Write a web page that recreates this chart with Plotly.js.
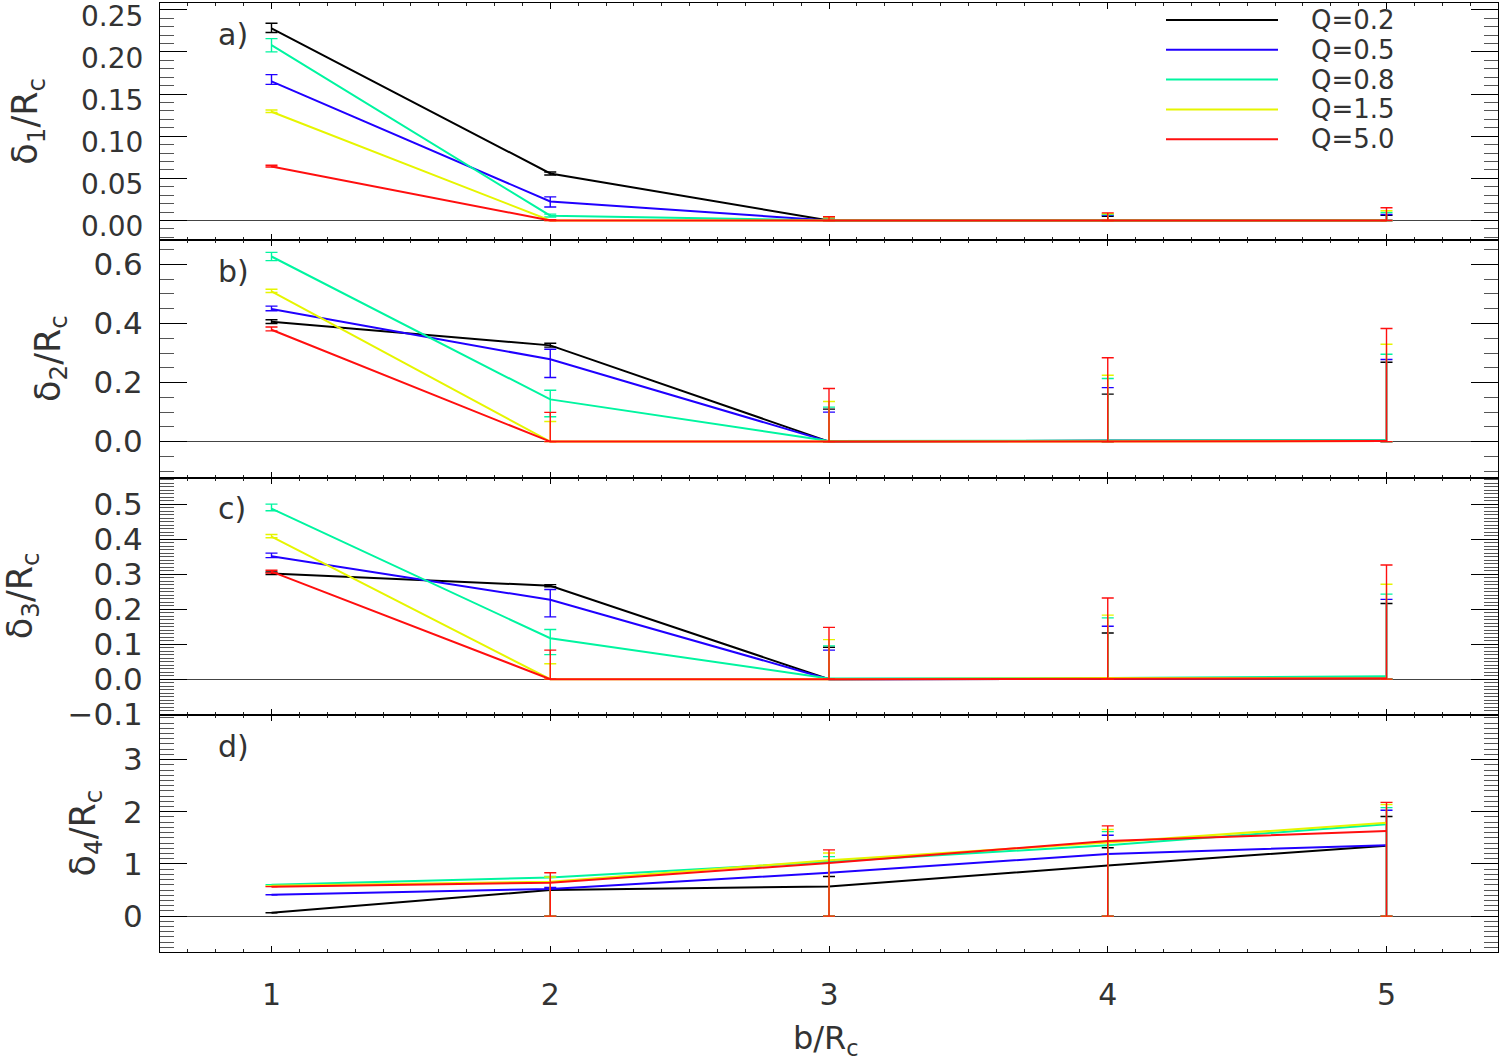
<!DOCTYPE html>
<html><head><meta charset="utf-8">
<script src="https://cdn.plot.ly/plotly-3.0.1.min.js"></script>
<style>body{margin:0;background:#fff}</style>
</head><body><div id="chart" style="width:1501px;height:1060px"></div>
<script>
// impact parameter b/Rc
const bR = [1, 2, 3, 4, 5];
const qLabels = ['Q=0.2', 'Q=0.5', 'Q=0.8', 'Q=1.5', 'Q=5.0'];
const qColors = ['#000000', '#2000ff', '#00f5a0', '#e6f500', '#ff0f0f'];

// panel a: delta_1 / Rc  (rows: Q=0.2, 0.5, 0.8, 1.5, 5.0)
const d1Val = [
  [0.228, 0.0557, 0, 0, 0],
  [0.165, 0.0225, 0, 0, 0],
  [0.208, 0.0056, 0, 0, 0],
  [0.129, 0, 0, 0, 0],
  [0.064, 0, 0, 0, 0]
];
const d1Hi = [
  [0.234, 0.0575, 0.002, 0.005, 0.006],
  [0.173, 0.028, 0.002, 0.006, 0.007],
  [0.2157, 0.0075, 0.003, 0.007, 0.0095],
  [0.131, 0.001, 0.003, 0.008, 0.0115],
  [0.0655, 0.001, 0.0044, 0.009, 0.015]
];
const d1Lo = [
  [0.223, 0.054, 0, 0, 0],
  [0.1615, 0.016, 0, 0, 0],
  [0.200, 0.004, 0, 0, 0],
  [0.128, 0, 0, 0, 0],
  [0.0635, 0, 0, 0, 0]
];

// panel b: delta_2 / Rc
const d2Val = [
  [0.406, 0.326, 0, 0.003, 0.003],
  [0.449, 0.279, 0, 0.003, 0.003],
  [0.627, 0.143, 0.002, 0.003, 0.005],
  [0.509, 0, 0, 0.002, 0.002],
  [0.379, 0, 0, 0.002, 0.002]
];
const d2Hi = [
  [0.413, 0.333, 0.110, 0.161, 0.269],
  [0.459, 0.313, 0.100, 0.183, 0.278],
  [0.641, 0.174, 0.117, 0.214, 0.296],
  [0.516, 0.068, 0.136, 0.225, 0.330],
  [0.388, 0.099, 0.180, 0.284, 0.383]
];
const d2Lo = [
  [0.400, 0.320, 0, 0, 0],
  [0.443, 0.217, 0, 0, 0],
  [0.613, 0.084, 0, 0, 0],
  [0.505, 0, 0, 0, 0],
  [0.375, 0, 0, 0, 0]
];

// panel c: delta_3 / Rc
const d3Val = [
  [0.302, 0.267, 0, 0.002, 0.002],
  [0.351, 0.227, 0, 0.002, 0.002],
  [0.487, 0.117, 0.002, 0.003, 0.008],
  [0.407, 0, 0, 0.003, 0.002],
  [0.307, 0, 0, 0.002, 0.002]
];
const d3Hi = [
  [0.306, 0.270, 0.091, 0.132, 0.216],
  [0.360, 0.256, 0.083, 0.151, 0.228],
  [0.500, 0.142, 0.095, 0.175, 0.243],
  [0.413, 0.044, 0.113, 0.183, 0.271],
  [0.311, 0.083, 0.148, 0.232, 0.326]
];
const d3Lo = [
  [0.299, 0.264, 0, 0, 0],
  [0.347, 0.178, 0, 0, 0],
  [0.481, 0.070, 0, 0, 0],
  [0.404, 0, 0, 0, 0],
  [0.303, 0, 0, 0, 0]
];

// panel d: delta_4 / Rc
const d4Val = [
  [0.064, 0.50, 0.57, 0.97, 1.35],
  [0.41, 0.52, 0.83, 1.19, 1.36],
  [0.60, 0.74, 1.04, 1.36, 1.76],
  [0.58, 0.66, 1.07, 1.41, 1.79],
  [0.565, 0.64, 1.02, 1.44, 1.63]
];
const d4Hi = [
  [0.064, 0.52, 0.76, 1.31, 1.91],
  [0.41, 0.55, 1.06, 1.55, 2.03],
  [0.60, 0.76, 1.14, 1.62, 2.08],
  [0.58, 0.75, 1.21, 1.66, 2.14],
  [0.565, 0.83, 1.27, 1.73, 2.18]
];
const d4Lo = [
  [0.064, 0, 0, 0, 0],
  [0.41, 0, 0, 0, 0],
  [0.60, 0, 0, 0, 0],
  [0.58, 0, 0, 0, 0],
  [0.565, 0, 0, 0, 0]
];

const panelLabels = ['a)', 'b)', 'c)', 'd)'];
const panelTitles = ['δ<sub>1</sub>/R<sub>c</sub>', 'δ<sub>2</sub>/R<sub>c</sub>', 'δ<sub>3</sub>/R<sub>c</sub>', 'δ<sub>4</sub>/R<sub>c</sub>'];

const panels = [
  {val: d1Val, hi: d1Hi, lo: d1Lo, range: [-0.0235, 0.258], minor: 0.01, fmt: '.2f', tickvals: [0, 0.05, 0.1, 0.15, 0.2, 0.25], fs: 28, titleX: 28, shift: 6},
  {val: d2Val, hi: d2Hi, lo: d2Lo, range: [-0.1215, 0.682], minor: 0.05, fmt: '.1f', tickvals: [0, 0.2, 0.4, 0.6], fs: 31, titleX: 51, shift: 0},
  {val: d3Val, hi: d3Hi, lo: d3Lo, range: [-0.1017, 0.576], minor: 0.01, fmt: '.1f', tickvals: [-0.1, 0, 0.1, 0.2, 0.3, 0.4, 0.5], fs: 31, titleX: 22, shift: 0},
  {val: d4Val, hi: d4Hi, lo: d4Lo, range: [-0.688, 3.86], minor: 0.1, fmt: 'd', tickvals: [0, 1, 2, 3], fs: 31, titleX: 85, shift: 0}
];

const FONT = 'DejaVu Sans, sans-serif';
const TXT = '#333333';
const plotL = 160, plotW = 1338, plotT = 3, plotB = 952;
const plotH = plotB - plotT;
const px2x = p => (p - plotL) / plotW;
const py2y = p => (plotB - p) / plotH;

const traces = [];
const layout = {
  width: 1501, height: 1060,
  margin: {l: 160, r: 3, t: plotT, b: 1060 - plotB},
  paper_bgcolor: '#fff', plot_bgcolor: '#fff',
  showlegend: false,
  font: {family: FONT, color: TXT},
  annotations: [], shapes: []
};

panels.forEach((p, i) => {
  const n = i === 0 ? '' : String(i + 1);
  const dom = [0.75 - 0.25 * i, 1 - 0.25 * i];
  p.val.forEach((row, q) => {
    traces.push({
      x: bR, y: row, xaxis: 'x' + n, yaxis: 'y' + n,
      type: 'scatter', mode: 'lines', name: qLabels[q],
      line: {color: qColors[q], width: 2},
      error_y: {
        type: 'data', symmetric: false,
        array: row.map((v, k) => Math.max(0, p.hi[q][k] - v)),
        arrayminus: row.map((v, k) => Math.max(0, v - p.lo[q][k])),
        color: qColors[q], thickness: 1.4, width: 6
      },
      hoverinfo: 'x+y'
    });
  });
  layout['xaxis' + n] = {
    domain: [0, 1], anchor: 'y' + n, range: [0.6, 5.4],
    matches: i === 0 ? undefined : 'x',
    showline: true, linecolor: '#000', linewidth: 1, mirror: 'ticks',
    ticks: 'inside', tickmode: 'linear', tick0: 0, dtick: 1, ticklen: 6, tickcolor: '#000', tickwidth: 1,
    minor: {dtick: 0.1, tick0: 0, ticklen: 3, tickcolor: '#222', tickwidth: 1, ticks: 'inside'},
    showgrid: false, zeroline: false,
    showticklabels: i === 3,
    tickfont: {family: FONT, size: 30, color: TXT},
    ticklabelstandoff: 16
  };
  layout['yaxis' + n] = {
    domain: dom, anchor: 'x' + n, range: p.range,
    showline: true, linecolor: '#000', linewidth: 1, mirror: 'ticks',
    ticks: 'inside', tickmode: 'array', tickvals: p.tickvals, ticklen: 27, tickcolor: '#000', tickwidth: 1,
    minor: {dtick: p.minor, tick0: 0, ticklen: 14, tickcolor: '#555', tickwidth: 1, ticks: 'inside'},
    tickformat: p.fmt,
    showgrid: false,
    zeroline: true, zerolinecolor: '#444', zerolinewidth: 1.2,
    tickfont: {family: FONT, size: p.fs, color: TXT},
    ticklabelstandoff: 10,
    ticklabelshift: p.shift,
    ticklabeloverflow: 'allow'
  };
  layout.annotations.push({
    xref: 'paper', yref: 'paper', x: px2x(216), y: dom[1] - 0.033,
    xanchor: 'left', yanchor: 'middle', showarrow: false,
    text: panelLabels[i], font: {family: FONT, size: 30, color: TXT}
  });
  layout.annotations.push({
    xref: 'paper', yref: 'paper', x: px2x(p.titleX), y: (dom[0] + dom[1]) / 2,
    xanchor: 'center', yanchor: 'middle', showarrow: false, textangle: -90,
    text: panelTitles[i], font: {family: FONT, size: 35, color: TXT}
  });
});

// x-axis title
layout.annotations.push({
  xref: 'paper', yref: 'paper', x: px2x(826), y: py2y(1040),
  xanchor: 'center', yanchor: 'middle', showarrow: false,
  text: 'b/R<sub>c</sub>', font: {family: FONT, size: 32, color: TXT}
});

// legend (top right of panel a)
qLabels.forEach((lab, q) => {
  const yy = py2y(20 + 29.8 * q);
  layout.shapes.push({
    type: 'line', xref: 'paper', yref: 'paper',
    x0: px2x(1166), x1: px2x(1278), y0: yy, y1: yy,
    line: {color: qColors[q], width: 2}
  });
  layout.annotations.push({
    xref: 'paper', yref: 'paper', x: px2x(1310), y: yy,
    xanchor: 'left', yanchor: 'middle', showarrow: false,
    text: lab, font: {family: FONT, size: 26, color: TXT},
    borderpad: 0
  });
});

Plotly.newPlot('chart', traces, layout, {displayModeBar: false, staticPlot: true});
</script></body></html>
